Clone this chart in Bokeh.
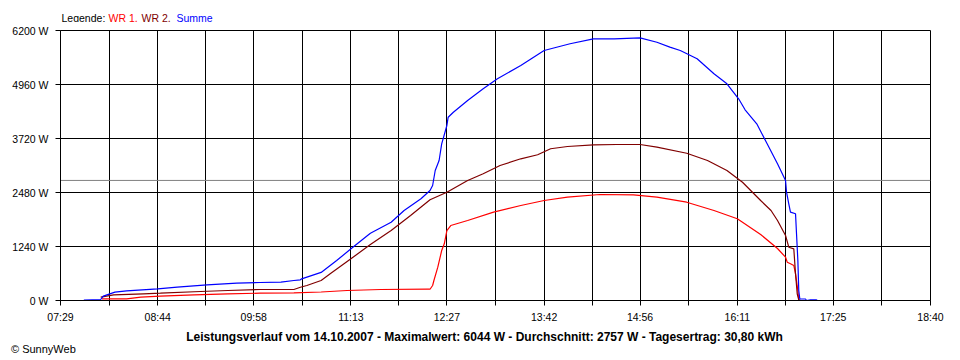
from bokeh.plotting import figure
from bokeh.layouts import column
from bokeh.models import Range1d, FixedTicker, PrintfTickFormatter, Span, ColumnDataSource, Div
from bokeh.core.properties import value
from bokeh.embed import file_html
from bokeh.resources import INLINE

# ---------------- data ----------------
X_TICK_LABELS = ["07:29", "08:44", "09:58", "11:13", "12:27", "13:42",
                 "14:56", "16:11", "17:25", "18:40"]
Y_TICKS = [0, 1240, 2480, 3720, 4960, 6200]
AVERAGE_W = 2757

SUMME_T = ["07:47", "08:00", "08:02", "08:11", "08:20", "08:44", "08:59", "09:22",
           "09:45", "10:03", "10:19", "10:29", "10:34", "10:35", "10:50", "11:02",
           "11:14", "11:28", "11:44", "11:54", "12:07", "12:14", "12:16", "12:18",
           "12:21", "12:23", "12:27", "12:28", "12:32", "12:43", "12:55", "13:06",
           "13:24", "13:42", "14:02", "14:20", "14:36", "14:56", "15:09", "15:19",
           "15:27", "15:40", "15:53", "16:03", "16:12", "16:17", "16:26", "16:34",
           "16:42", "16:48:12", "16:48:58", "16:50:42", "16:52:00", "16:55:54",
           "16:56:40", "16:57:42", "16:58:24", "16:59:12", "17:03:36", "17:04:24",
           "17:07:24", "17:12:06", "17:12:40"]
SUMME_W = [10, 23, 99, 191, 223, 269, 305, 361,
           397, 413, 420, 459, 475, 498, 645, 918,
           1210, 1545, 1798, 2067, 2335, 2526, 2641, 2985,
           3215, 3598, 4019, 4209, 4324, 4593, 4861, 5091,
           5396, 5741, 5895, 6009, 6009, 6032, 5931, 5817,
           5741, 5550, 5206, 4976, 4632, 4379, 4058, 3598,
           3139, 2756, 2487, 2221, 2028, 1991,
           1532, 919, 230, 39, 34, 0,
           15, 15, 0]

WR1_T = ["08:01", "08:20", "08:31", "08:46", "09:12", "09:38", "10:03", "10:29",
         "10:50", "11:10", "11:36", "12:12", "12:14", "12:16", "12:17", "12:20",
         "12:23", "12:25", "12:27", "12:30", "12:43", "13:03", "13:24", "13:42",
         "14:00", "14:25", "14:51", "15:09", "15:32", "15:53", "16:11", "16:29",
         "16:42", "16:48:12", "16:49:30", "16:52:00", "16:54:34", "16:55:54",
         "16:57:42", "16:58:24", "16:59:42"]
WR1_W = [39, 39, 76, 99, 131, 154, 168, 177,
         195, 230, 253, 259, 259, 344, 459, 765,
         1148, 1302, 1607, 1722, 1837, 2028, 2181, 2296,
         2372, 2434, 2427, 2372, 2257, 2067, 1876, 1516,
         1194, 994, 880, 843, 804, 613,
         230, 16, 0]

WR2_T = ["08:00", "08:10", "08:33", "08:46", "09:17", "09:38", "10:03", "10:29",
         "10:34", "10:39", "10:50", "10:57", "11:13", "11:28", "11:44", "11:59",
         "12:14", "12:27", "12:43", "12:55", "13:08", "13:24", "13:37", "13:47",
         "14:00", "14:20", "14:38", "14:56", "15:09", "15:32", "15:48", "16:03",
         "16:15", "16:29", "16:37", "16:42", "16:48:12", "16:50:42", "16:54:34",
         "16:55:54", "16:57:12", "16:58:24", "16:59:42"]
WR2_W = [76, 131, 154, 168, 207, 230, 253, 253,
         305, 344, 459, 613, 958, 1286, 1607, 1952,
         2312, 2487, 2756, 2909, 3100, 3254, 3346, 3484,
         3536, 3575, 3582, 3582, 3520, 3382, 3215, 2985,
         2716, 2296, 2067, 1837, 1493, 1224, 1187,
         613, 154, 16, 0]

LEGEND_TEXTS = ["Legende:", "WR 1,", "WR 2,", "Summe"]
TITLE = ("Leistungsverlauf vom 14.10.2007 - Maximalwert: 6044 W - "
         "Durchschnitt: 2757 W - Tagesertrag: 30,80 kWh")
CREDIT = "\u00a9 SunnyWeb"

# ---------------- styles / layout ----------------
RED = "#ff0000"
DARK_RED = "#800000"
BLUE = "#0000ff"
LEGEND_COLORS = ["#000000", RED, DARK_RED, BLUE]
LEGEND_X = [61, 108, 141, 176]
FONT = "Liberation Sans"
W = 960
HEAD_H, MAIN_H, FOOT_H = 22, 303, 35
FRAME_L, FRAME_R = 60, 930

# header: coloured legend text (x in page pixels, frame aligned with main chart)
head = figure(width=W, height=HEAD_H, x_range=Range1d(FRAME_L, FRAME_R),
              y_range=Range1d(HEAD_H, 0), output_backend="svg", toolbar_location=None,
              min_border=0, outline_line_color=None,
              background_fill_color="white", border_fill_color="white")
head.axis.visible = False
head.grid.visible = False
head.text(x=LEGEND_X, y=[17] * 4, text=LEGEND_TEXTS, text_color=LEGEND_COLORS,
          text_font=value(FONT), text_font_size=value("10.5px"),
          text_baseline="middle", text_align="left")


def minutes(s):
    parts = [int(v) for v in s.split(":")]
    sec = parts[2] if len(parts) > 2 else 0
    return parts[0] * 60 + parts[1] + sec / 60.0


major = [minutes(s) for s in X_TICK_LABELS]
minor = [(a + b) / 2.0 for a, b in zip(major[:-1], major[1:])]

p = figure(width=W, height=MAIN_H,
           x_range=Range1d(major[0], major[-1]),
           y_range=Range1d(Y_TICKS[0], Y_TICKS[-1]),
           output_backend="svg", toolbar_location=None,
           min_border_left=FRAME_L, min_border_right=W - FRAME_R,
           min_border_top=8, min_border_bottom=25,
           background_fill_color="white", border_fill_color="white",
           outline_line_color="black", outline_line_width=1)

p.xaxis.ticker = FixedTicker(ticks=major, minor_ticks=minor)
p.xaxis.major_label_overrides = {m: lab for m, lab in zip(major, X_TICK_LABELS)}
p.yaxis.ticker = FixedTicker(ticks=Y_TICKS)
p.yaxis.formatter = PrintfTickFormatter(format="%d W")

for ax in (p.xaxis, p.yaxis):
    ax.axis_line_color = "black"
    ax.major_tick_line_color = "black"
    ax.major_tick_in = 0
    ax.major_tick_out = 5
    ax.major_label_text_font = FONT
    ax.major_label_text_font_size = "10.5px"
    ax.major_label_text_color = "black"
p.xaxis.minor_tick_line_color = "black"
p.xaxis.minor_tick_in = 0
p.xaxis.minor_tick_out = 5
p.yaxis.minor_tick_line_color = None
p.xaxis.major_label_standoff = 5
p.yaxis.major_label_standoff = 7

p.xgrid.ticker = FixedTicker(ticks=major, minor_ticks=minor)
p.xgrid.grid_line_color = "black"
p.xgrid.minor_grid_line_color = "black"
p.ygrid.ticker = FixedTicker(ticks=Y_TICKS)
p.ygrid.grid_line_color = "black"

p.add_layout(Span(location=AVERAGE_W, dimension="width", line_color="#808080",
                  line_width=1, level="underlay"))

for t, w, c in ((WR1_T, WR1_W, RED), (WR2_T, WR2_W, DARK_RED), (SUMME_T, SUMME_W, BLUE)):
    src = ColumnDataSource(dict(x=[minutes(s) for s in t], y=w))
    p.line("x", "y", source=src, line_color=c, line_width=1.2)

# footer: summary line and credit
foot_html = (
    f'<div style="position:relative;width:{W}px;height:{FOOT_H}px;'
    f'font-family:\'{FONT}\';color:#000;">'
    f'<div style="position:absolute;left:0;top:0px;width:959px;text-align:center;'
    f'font-size:12px;font-weight:bold;line-height:14px;white-space:nowrap;">{TITLE}</div>'
    f'<div style="position:absolute;left:6px;top:13px;font-size:11px;'
    f'line-height:13px;white-space:nowrap;">{CREDIT}</div>'
    f'</div>'
)
foot = Div(text=foot_html, width=W, height=FOOT_H)

layout = column(head, p, foot, spacing=0)
open("out.html", "w").write(file_html(layout, INLINE))
